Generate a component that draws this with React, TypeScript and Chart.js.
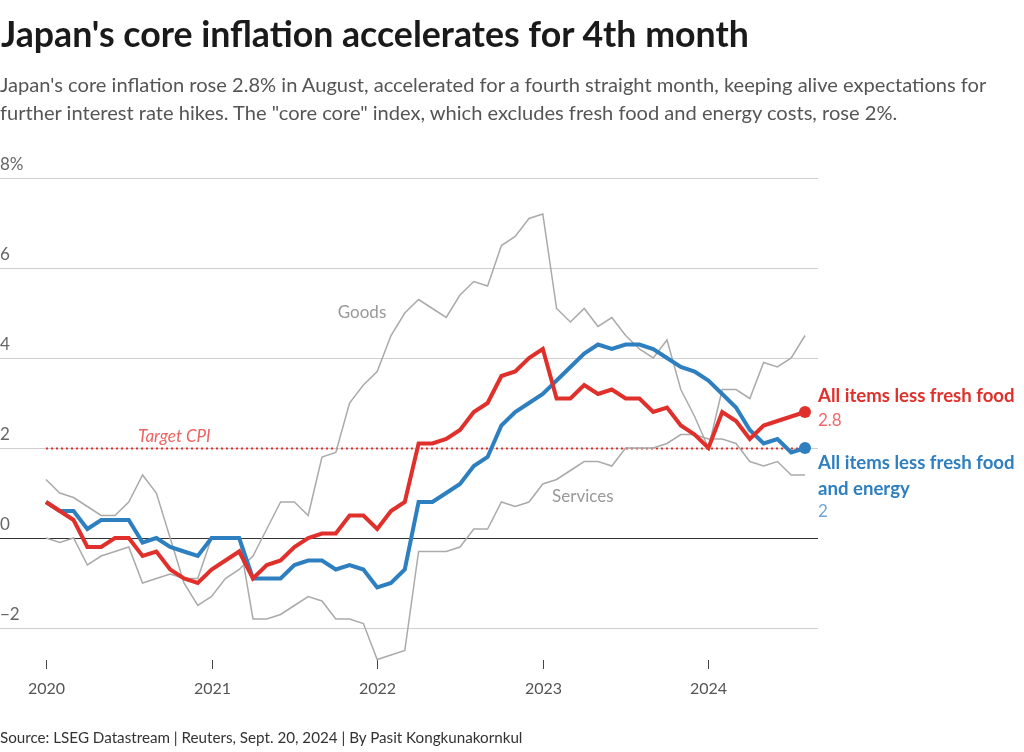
import React, { useEffect, useRef } from "react";
import { Chart, registerables } from "chart.js";

Chart.register(...registerables);

// Monthly data, Jan 2020 – Aug 2024 (y/y % change)
const START_YEAR = 2020;
const YEAR_LABELS = ["2020", "2021", "2022", "2023", "2024"];
const Y_TICKS = [-2, 0, 2, 4, 6, 8];
const Y_TICK_LABELS = ["\u22122", "0", "2", "4", "6", "8%"];
const TARGET_CPI = 2;

const CORE = [
  0.8, 0.6, 0.4, -0.2, -0.2, 0.0, 0.0, -0.4, -0.3, -0.7, -0.9, -1.0,
  -0.7, -0.5, -0.3, -0.9, -0.6, -0.5, -0.2, 0.0, 0.1, 0.1, 0.5, 0.5,
  0.2, 0.6, 0.8, 2.1, 2.1, 2.2, 2.4, 2.8, 3.0, 3.6, 3.7, 4.0,
  4.2, 3.1, 3.1, 3.4, 3.2, 3.3, 3.1, 3.1, 2.8, 2.9, 2.5, 2.3,
  2.0, 2.8, 2.6, 2.2, 2.5, 2.6, 2.7, 2.8,
];

const CORE_CORE = [
  0.8, 0.6, 0.6, 0.2, 0.4, 0.4, 0.4, -0.1, 0.0, -0.2, -0.3, -0.4,
  0.0, 0.0, 0.0, -0.9, -0.9, -0.9, -0.6, -0.5, -0.5, -0.7, -0.6, -0.7,
  -1.1, -1.0, -0.7, 0.8, 0.8, 1.0, 1.2, 1.6, 1.8, 2.5, 2.8, 3.0,
  3.2, 3.5, 3.8, 4.1, 4.3, 4.2, 4.3, 4.3, 4.2, 4.0, 3.8, 3.7,
  3.5, 3.2, 2.9, 2.4, 2.1, 2.2, 1.9, 2.0,
];

const GOODS = [
  1.3, 1.0, 0.9, 0.7, 0.5, 0.5, 0.8, 1.4, 1.0, 0.0, -1.0, -1.5,
  -1.3, -0.9, -0.7, -0.4, 0.2, 0.8, 0.8, 0.5, 1.8, 1.9, 3.0, 3.4,
  3.7, 4.5, 5.0, 5.3, 5.1, 4.9, 5.4, 5.7, 5.6, 6.5, 6.7, 7.1,
  7.2, 5.1, 4.8, 5.1, 4.7, 4.9, 4.5, 4.2, 4.0, 4.4, 3.3, 2.7,
  2.0, 3.3, 3.3, 3.1, 3.9, 3.8, 4.0, 4.5,
];

const SERVICES = [
  0.0, -0.1, 0.0, -0.6, -0.4, -0.3, -0.2, -1.0, -0.9, -0.8, -0.9, -0.9,
  0.0, 0.0, 0.0, -1.8, -1.8, -1.7, -1.5, -1.3, -1.4, -1.8, -1.8, -1.9,
  -2.7, -2.6, -2.5, -0.3, -0.3, -0.3, -0.2, 0.2, 0.2, 0.8, 0.7, 0.8,
  1.2, 1.3, 1.5, 1.7, 1.7, 1.6, 2.0, 2.0, 2.0, 2.1, 2.3, 2.3,
  2.2, 2.2, 2.1, 1.7, 1.6, 1.7, 1.4, 1.4,
];

const RED = "#e0302b";
const BLUE = "#2e7fc0";
const GRAY = "#aaaaaa";
const FONT = "Lato, 'Noto Sans', sans-serif";

const toPoints = (arr: number[]) => arr.map((y, i) => ({ x: i, y }));

const overlayPlugin = {
  id: "reutersOverlay",
  beforeDatasetsDraw(chart: any) {
    const { ctx, chartArea, scales } = chart;
    const xs = scales.x;
    const ys = scales.y;
    ctx.save();
    // grid lines + y labels
    Y_TICKS.forEach((v, i) => {
      const y = Math.round(ys.getPixelForValue(v)) + 0.5;
      ctx.beginPath();
      ctx.moveTo(chartArea.left, y);
      ctx.lineTo(chartArea.right, y);
      ctx.lineWidth = 1;
      ctx.strokeStyle = v === 0 ? "#333333" : "#cfcfcf";
      ctx.stroke();
      ctx.fillStyle = "#666666";
      ctx.font = `17px ${FONT}`;
      ctx.textAlign = "left";
      ctx.textBaseline = "alphabetic";
      ctx.fillText(Y_TICK_LABELS[i], chartArea.left, y - 9);
    });
    // x ticks + labels
    YEAR_LABELS.forEach((lab) => {
      const idx = (parseInt(lab, 10) - START_YEAR) * 12;
      const x = Math.round(xs.getPixelForValue(idx)) + 0.5;
      ctx.beginPath();
      ctx.moveTo(x, chartArea.bottom - 4);
      ctx.lineTo(x, chartArea.bottom + 5);
      ctx.strokeStyle = "#444444";
      ctx.lineWidth = 1;
      ctx.stroke();
      ctx.fillStyle = "#555555";
      ctx.font = `16px ${FONT}`;
      ctx.textAlign = "center";
      ctx.textBaseline = "middle";
      ctx.fillText(lab, x, chartArea.bottom + 25);
    });
    // target CPI dotted line
    const ty = Math.round(ys.getPixelForValue(TARGET_CPI)) + 0.5;
    ctx.beginPath();
    ctx.setLineDash([2, 3]);
    ctx.moveTo(xs.getPixelForValue(0), ty);
    ctx.lineTo(xs.getPixelForValue(CORE.length - 1), ty);
    ctx.strokeStyle = RED;
    ctx.lineWidth = 2;
    ctx.stroke();
    ctx.setLineDash([]);
    // annotations
    ctx.font = `italic 17px ${FONT}`;
    ctx.fillStyle = "#ee6262";
    ctx.textAlign = "center";
    ctx.textBaseline = "middle";
    ctx.fillText("Target CPI", xs.getPixelForValue(9.3), ys.getPixelForValue(2.25));
    ctx.font = `17px ${FONT}`;
    ctx.fillStyle = "#999999";
    ctx.fillText("Goods", xs.getPixelForValue(22.9), ys.getPixelForValue(5.0));
    ctx.fillText("Services", xs.getPixelForValue(38.9), ys.getPixelForValue(0.93));
    ctx.restore();
  },
  afterDraw(chart: any) {
    const { ctx, chartArea, scales } = chart;
    const ys = scales.y;
    const last = CORE.length - 1;
    const x0 = chartArea.right;
    const ry = ys.getPixelForValue(CORE[last]);
    const by = ys.getPixelForValue(CORE_CORE[last]);
    ctx.save();
    ctx.textAlign = "left";
    ctx.textBaseline = "middle";
    ctx.font = `bold 18.6px ${FONT}`;
    ctx.fillStyle = RED;
    ctx.fillText("All items less fresh food", x0, ry - 16);
    ctx.font = `17px ${FONT}`;
    ctx.fillStyle = "#ef6b6b";
    ctx.fillText(String(CORE[last]), x0, ry + 9);
    ctx.font = `bold 18.6px ${FONT}`;
    ctx.fillStyle = BLUE;
    ctx.fillText("All items less fresh food", x0, by + 15);
    ctx.fillText("and energy", x0, by + 41);
    ctx.font = `17px ${FONT}`;
    ctx.fillStyle = "#6fa6d6";
    ctx.fillText(String(CORE_CORE[last]), x0, by + 64);
    ctx.restore();
  },
};

export default function App() {
  const ref = useRef<HTMLCanvasElement | null>(null);

  useEffect(() => {
    if (!ref.current) return;
    const lastIdx = CORE.length - 1;
    const endRadius = (ctx: any) => (ctx.dataIndex === lastIdx ? 6 : 0);
    const chart = new Chart(ref.current, {
      type: "line",
      data: {
        datasets: [
          {
            label: "All items less fresh food",
            data: toPoints(CORE),
            borderColor: RED,
            backgroundColor: RED,
            borderWidth: 4,
            pointRadius: endRadius,
            pointBorderWidth: 0,
            pointBackgroundColor: RED,
            tension: 0,
          },
          {
            label: "All items less fresh food and energy",
            data: toPoints(CORE_CORE),
            borderColor: BLUE,
            backgroundColor: BLUE,
            borderWidth: 4,
            pointRadius: endRadius,
            pointBorderWidth: 0,
            pointBackgroundColor: BLUE,
            tension: 0,
          },
          {
            label: "Goods",
            data: toPoints(GOODS),
            borderColor: GRAY,
            borderWidth: 1.5,
            pointRadius: 0,
            tension: 0,
          },
          {
            label: "Services",
            data: toPoints(SERVICES),
            borderColor: GRAY,
            borderWidth: 1.5,
            pointRadius: 0,
            tension: 0,
          },
        ],
      },
      options: {
        animation: false,
        responsive: false,
        maintainAspectRatio: false,
        layout: { autoPadding: false, padding: { left: 0, right: 206, top: 178, bottom: 88 } },
        plugins: {
          legend: { display: false },
          tooltip: { enabled: false },
        },
        scales: {
          x: { type: "linear", display: false, min: -3.33, max: 55.94 },
          y: { type: "linear", display: false, min: -2.8, max: 8 },
        },
      },
      plugins: [overlayPlugin],
    });
    return () => chart.destroy();
  }, []);

  return (
    <div style={{ position: "fixed", left: 0, top: 0, width: 1024, height: 752, background: "#fff", overflow: "hidden" }}>
      <canvas ref={ref} width={1024} height={752} style={{ position: "absolute", left: 0, top: 0 }} />
      <div
        style={{
          position: "absolute",
          left: 1,
          top: 12,
          fontFamily: FONT,
          fontWeight: 700,
          fontSize: 35.7,
          color: "#1a1a1a",
          whiteSpace: "nowrap",
          lineHeight: "44px",
        }}
      >
        Japan's core inflation accelerates for 4th month
      </div>
      <div
        style={{
          position: "absolute",
          left: 0,
          top: 70,
          width: 1020,
          fontFamily: FONT,
          fontSize: 20.1,
          color: "#555555",
          lineHeight: "28px",
          whiteSpace: "nowrap",
        }}
      >
        Japan's core inflation rose 2.8% in August, accelerated for a fourth straight month, keeping alive expectations for
        <br />
        further interest rate hikes. The "core core" index, which excludes fresh food and energy costs, rose 2%.
      </div>
      <div
        style={{
          position: "absolute",
          left: 0,
          top: 727,
          fontFamily: FONT,
          fontSize: 15.2,
          color: "#333333",
          whiteSpace: "nowrap",
          lineHeight: "20px",
        }}
      >
        Source: LSEG Datastream | Reuters, Sept. 20, 2024 | By Pasit Kongkunakornkul
      </div>
    </div>
  );
}
